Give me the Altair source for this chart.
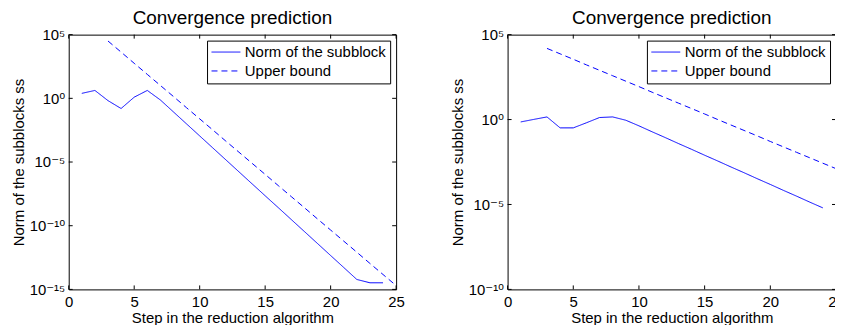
import altair as alt
import pandas as pd

# ---------------- data (log10 of the plotted values) ----------------
series_names = ["Norm of the subblock", "Upper bound"]

left_norm_steps = list(range(1, 25))
left_norm_log = [0.39, 0.62, -0.18, -0.80, 0.09, 0.62, -0.13, -1.07, -2.01, -2.95,
                 -3.89, -4.83, -5.77, -6.71, -7.65, -8.58, -9.52, -10.46, -11.40,
                 -12.34, -13.28, -14.22, -14.48, -14.48]
left_bound_steps = list(range(3, 26))
left_bound_log = [4.50, 3.63, 2.75, 1.88, 1.01, 0.14, -0.74, -1.61, -2.48, -3.36,
                  -4.23, -5.10, -5.97, -6.85, -7.72, -8.59, -9.47, -10.34, -11.21,
                  -12.08, -12.96, -13.83, -14.70]

right_norm_steps = list(range(1, 25))
right_norm_log = [-0.14, 0.01, 0.155, -0.49, -0.49, -0.19, 0.12, 0.155, -0.04, -0.37,
                  -0.72, -1.06, -1.41, -1.75, -2.10, -2.44, -2.79, -3.13, -3.48,
                  -3.82, -4.17, -4.51, -4.86, -5.20]
right_bound_steps = list(range(3, 26))
right_bound_log = [4.19, 3.87, 3.55, 3.22, 2.90, 2.58, 2.26, 1.94, 1.61, 1.29, 0.97,
                   0.65, 0.33, 0.00, -0.32, -0.64, -0.96, -1.29, -1.61, -1.93, -2.25,
                   -2.57, -2.89]

x_ticks = [0, 5, 10, 15, 20, 25]
left_y_ticks = [1e-15, 1e-10, 1e-5, 1, 1e5]
right_y_ticks = [1e-10, 1e-5, 1, 1e5]
left_y_domain = [1e-15, 1e5]
right_y_domain = [1e-10, 1e5]

title_text = "Convergence prediction"
x_title = "Step in the reduction algorithm"
y_title = "Norm of the subblocks ss"

# ---------------- style ----------------
FONT = "Liberation Sans, DejaVu Sans, sans-serif"
BLUE = "#0000ff"
H = 256
TICK = 4

label_expr = ("datum.value >= 1e4 ? '10\u2075' : datum.value >= 0.1 ? '10\u2070' : "
              "datum.value >= 1e-6 ? '10\u207b\u2075' : datum.value >= 1e-11 ? "
              "'10\u207b\u00b9\u2070' : '10\u207b\u00b9\u2075'")


def panel(nx, nlog, bx, blog, ydomain, yticks, width):
    df = pd.DataFrame({
        "x": list(nx) + list(bx),
        "v": [10 ** e for e in nlog] + [10 ** e for e in blog],
        "series": [series_names[0]] * len(nx) + [series_names[1]] * len(bx),
    })
    xenc = alt.X(
        "x:Q",
        scale=alt.Scale(domain=[0, 25], nice=False, zero=False),
        axis=alt.Axis(values=x_ticks, title=x_title, labelPadding=5, titlePadding=1,
                      labelFlush=False, labelOverlap=False, format="d"),
    )
    yenc = alt.Y(
        "v:Q",
        scale=alt.Scale(type="log", domain=ydomain, nice=False),
        axis=alt.Axis(values=yticks, title=y_title, labelExpr=label_expr,
                      labelPadding=4, minExtent=38, maxExtent=38, titlePadding=4,
                      labelFlush=False, labelOverlap=False),
    )
    lines = alt.Chart(df).mark_line(color=BLUE, strokeWidth=1, clip=True).encode(
        x=xenc,
        y=yenc,
        strokeDash=alt.StrokeDash(
            "series:N",
            scale=alt.Scale(domain=series_names, range=[[1, 0], [6, 4]]),
            legend=alt.Legend(
                title=None, orient="top-right", offset=6, padding=4,
                strokeColor="black", fillColor="white", symbolType="stroke",
                symbolSize=841, symbolStrokeWidth=1, symbolStrokeColor=BLUE,
                labelFont=FONT, labelFontSize=15, labelColor="black",
                rowPadding=3, labelOffset=4, labelLimit=400, cornerRadius=0,
                clipHeight=15,
            ),
        ),
    )
    xt = pd.DataFrame({"x": x_ticks})
    yt = pd.DataFrame({"v": yticks})
    top = alt.Chart(xt).mark_rule(color="black", strokeWidth=1).encode(
        x=xenc, y=alt.value(0), y2=alt.value(TICK))
    bot = alt.Chart(xt).mark_rule(color="black", strokeWidth=1).encode(
        x=xenc, y=alt.value(H - TICK), y2=alt.value(H))
    lft = alt.Chart(yt).mark_rule(color="black", strokeWidth=1).encode(
        y=yenc, x=alt.value(0), x2=alt.value(TICK))
    rgt = alt.Chart(yt).mark_rule(color="black", strokeWidth=1).encode(
        y=yenc, x=alt.value(width - TICK), x2=alt.value(width))
    return alt.layer(lines, top, bot, lft, rgt).properties(
        width=width, height=H,
        title=alt.Title(title_text, font=FONT, fontSize=19, fontWeight="normal",
                        color="black", offset=-0.5, anchor="middle", frame="group"),
    )


left = panel(left_norm_steps, left_norm_log, left_bound_steps, left_bound_log,
             left_y_domain, left_y_ticks, 329)
right = panel(right_norm_steps, right_norm_log, right_bound_steps, right_bound_log,
              right_y_domain, right_y_ticks, 330)

chart = alt.hconcat(left, right, spacing=45).resolve_scale(
    strokeDash="independent"
).resolve_legend(strokeDash="independent").properties(
    padding={"left": 3, "top": 0, "right": -10, "bottom": -2}
).configure(background="white").configure_view(
    stroke="black", strokeWidth=1
).configure_axis(
    grid=False, domain=False, ticks=False, tickSize=0,
    labelFont=FONT, labelFontSize=15, labelColor="black",
    titleFont=FONT, titleFontSize=15, titleFontWeight="normal", titleColor="black",
)

chart.save("out.html", embed_options={"renderer": "svg", "actions": False})
